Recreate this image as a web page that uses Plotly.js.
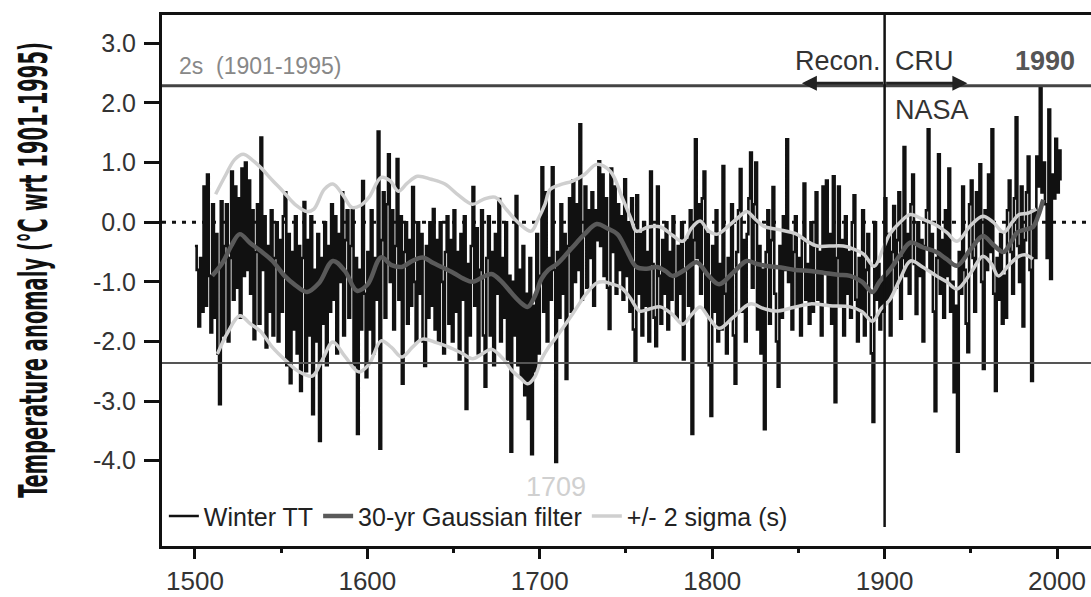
<!DOCTYPE html>
<html><head><meta charset="utf-8">
<script src="https://cdn.plot.ly/plotly-3.0.1.min.js"></script>
<style>html,body{margin:0;padding:0;background:#fff;} #chart{width:1091px;height:597px;}</style>
</head><body><div id="chart"></div>
<script>
// ---- DATA ----
const firstYear = 1500;
const winterTT = [
 -0.4,-0.8,-1.75,-0.6,-1.5,0.6,-1.4,0.8,-0.9,-1.85,
 0.3,-1.6,-0.2,-2.2,-3.05,0.35,-1.9,-0.4,0.3,-2.0,
 -0.6,0.85,-1.3,0.6,-1.1,0.4,-1.6,0.9,-0.9,1.0,
 -0.8,0.7,-1.2,0.2,-1.96,-0.5,0.3,-1.7,1.42,-0.8,
 0.1,-2.1,-0.4,-1.5,0.2,-1.9,-0.6,0.0,-2.0,-0.3,
 -1.5,0.1,0.5,-2.4,-0.2,-2.7,-0.5,-1.8,0.1,-2.2,
 -0.4,-2.83,-0.6,0.34,-2.5,-0.3,-1.9,0.1,-3.22,-0.8,
 -2.0,-0.2,-3.67,-0.6,-1.7,0.0,-2.4,-0.4,-1.5,0.3,
 -1.3,0.1,-2.2,-0.2,-1.0,0.5,-1.9,-0.3,0.2,-1.6,
 -0.4,0.2,-2.4,-0.6,-3.55,-0.8,-1.8,0.69,-1.2,-2.6,
 -0.5,-1.8,0.2,-2.2,-0.6,-1.3,1.52,-3.8,-0.3,0.5,
 -1.6,0.3,1.14,-1.0,0.2,-1.8,-0.4,1.06,-1.3,0.1,
 -2.71,-0.5,0.0,-1.7,-0.3,-1.4,0.59,-1.0,-2.0,0.0,
 -1.2,-0.2,-2.0,-2.41,-0.4,-1.6,0.0,-1.4,0.22,-1.8,
 -0.3,-2.0,0.0,-1.0,-2.2,-0.5,0.1,-1.7,-0.3,-2.0,
 0.2,-1.5,-0.5,-2.3,-0.2,-1.3,0.1,-3.13,-0.7,-1.9,
 -0.4,0.59,-1.4,-0.1,-2.2,-0.8,0.2,-1.9,-2.76,-0.6,
 0.1,-1.9,-0.5,-2.4,-0.2,-1.2,0.39,-2.0,-0.6,-1.6,
 0.0,-2.3,-0.9,-3.85,-1.0,-1.9,0.44,-2.4,-0.8,-2.6,
 -0.4,-2.9,-1.2,-3.3,-0.6,-3.89,-1.4,-2.5,-0.2,-2.2,
 -0.9,0.92,-1.5,0.5,-2.0,-0.6,-1.3,0.92,-0.8,-4.02,
 -0.5,-1.6,0.3,-1.2,-0.2,-2.63,-0.4,0.4,-1.5,0.7,
 -1.0,0.3,-0.8,1.64,-1.3,-0.2,0.6,-1.1,0.2,-0.6,
 0.5,-1.4,0.2,-0.3,1.02,-0.4,0.8,-0.9,0.4,-1.1,
 -1.79,0.9,-0.5,0.6,-1.2,0.3,-0.8,0.1,-1.3,0.72,
 -0.9,0.0,-1.5,0.4,-1.8,-2.33,0.45,-1.2,-0.2,-1.9,
 0.0,-1.4,-0.5,-2.0,0.85,-0.7,-1.6,-2.08,0.6,-0.9,
 -1.7,-0.3,-1.2,0.0,-1.8,-0.5,-1.3,0.1,-0.9,-1.6,
 -0.4,-1.2,0.0,-2.3,-0.8,-0.3,-1.4,0.2,-3.55,-0.3,
 1.39,-0.6,0.3,-1.2,0.4,0.85,-1.5,-0.2,-2.4,-3.25,
 -0.4,-1.5,0.2,-2.0,-0.7,-1.8,0.94,-1.2,-2.2,-0.6,
 -1.6,0.3,-1.9,-2.71,-0.5,0.2,0.89,-1.5,-0.3,-2.0,
 -0.2,0.4,1.17,-1.1,0.3,1.0,-1.8,-0.4,-2.2,-0.8,
 -3.47,-0.5,0.2,-1.7,-0.3,0.59,-1.2,-2.0,-2.76,-0.4,
 -1.6,0.1,-0.8,1.39,-1.0,-0.2,-1.8,-0.5,0.1,-1.4,
 -0.6,-1.9,-0.3,0.65,-1.3,-0.7,-1.7,0.0,-1.5,-0.4,
 0.5,-1.3,-0.5,-1.9,0.6,-0.8,0.7,-1.4,-0.2,-1.7,
 0.77,-3.02,-0.6,0.6,-1.4,-0.3,-1.9,0.1,-1.2,-0.5,
 -1.6,0.0,0.45,-1.3,-2.0,-0.6,-1.5,0.2,-1.9,-0.8,
 -0.2,-1.6,-2.2,-3.35,0.0,-1.3,-0.7,-1.8,-1.0,-1.5,
 0.4,-1.3,-0.2,-1.9,-0.5,0.27,-1.1,-0.3,0.5,-1.62,
 -0.6,1.26,-0.9,-0.2,-1.2,0.3,0.8,-0.7,-1.54,0.0,
 -0.9,-0.3,-2.0,-0.4,0.2,1.56,-0.8,-0.2,-1.5,-3.17,
 -0.6,1.14,-1.2,-0.3,-1.6,0.2,-0.9,0.9,-1.5,-1.0,
 -2.85,-1.4,-3.85,-0.5,-1.2,0.6,-0.8,-1.7,-2.18,0.3,
 0.7,-0.6,-1.5,0.5,-0.3,0.97,-1.0,-2.46,0.2,-0.8,
 0.8,-0.5,1.56,-1.2,-2.83,-0.6,-1.3,-0.2,-1.7,-0.9,
 -1.6,0.2,0.7,-0.5,-1.2,0.4,1.76,-0.4,-1.0,0.6,
 -1.75,-0.3,0.5,1.1,-0.8,-2.66,0.2,-0.6,1.1,0.6,
 2.28,0.5,1.0,0.3,-0.6,1.89,-0.95,0.8,0.4,1.4,
 0.5,1.2,0.7
];

const filterYears  = [1510,1516,1521,1526,1532,1538,1545,1552,1558,1565,1572,1580,1587,1594,1600,1608,1614,1620,1626,1632,1638,1643,1650,1656,1661,1667,1672,1678,1684,1689,1693,1697,1701,1705,1710,1715,1719,1726,1733,1739,1745,1750,1756,1762,1768,1773,1777,1784,1791,1798,1804,1812,1820,1826,1833,1840,1848,1857,1865,1873,1880,1887,1893,1897,1903,1909,1915,1922,1930,1936,1942,1950,1957,1963,1969,1973,1977,1982,1986,1989,1992];
const filterValues = [-0.90,-0.68,-0.40,-0.20,-0.35,-0.48,-0.65,-0.90,-1.05,-1.17,-1.02,-0.65,-0.82,-1.15,-1.05,-0.59,-0.72,-0.75,-0.65,-0.59,-0.68,-0.75,-0.85,-0.95,-1.00,-0.92,-0.87,-1.00,-1.20,-1.35,-1.42,-1.25,-0.95,-0.80,-0.70,-0.55,-0.42,-0.20,-0.03,-0.10,-0.20,-0.45,-0.75,-0.78,-0.75,-0.82,-0.90,-0.80,-0.67,-0.90,-1.04,-0.85,-0.65,-0.70,-0.74,-0.76,-0.80,-0.82,-0.85,-0.88,-0.90,-1.00,-1.17,-1.00,-0.80,-0.55,-0.34,-0.42,-0.50,-0.62,-0.73,-0.45,-0.23,-0.38,-0.50,-0.35,-0.17,-0.12,-0.08,0.10,0.38];

const sigmaUpYears  = [1512,1518,1523,1528,1533,1538,1545,1551,1558,1565,1569,1575,1580,1586,1591,1596,1601,1608,1613,1618,1623,1629,1637,1645,1653,1661,1667,1674,1681,1688,1695,1699,1703,1706,1712,1719,1726,1733,1741,1748,1753,1756,1763,1770,1777,1783,1788,1793,1798,1803,1810,1816,1820,1825,1830,1838,1849,1855,1861,1868,1876,1882,1888,1894,1899,1903,1909,1915,1922,1930,1936,1942,1950,1957,1963,1969,1974,1978,1983,1988];
const sigmaUpValues = [0.47,0.80,1.05,1.14,1.05,0.92,0.70,0.52,0.30,0.18,0.22,0.55,0.64,0.45,0.25,0.28,0.42,0.75,0.70,0.52,0.65,0.77,0.72,0.64,0.45,0.30,0.38,0.42,0.20,-0.02,-0.15,0.05,0.30,0.55,0.63,0.69,0.80,0.97,0.85,0.40,0.05,-0.15,-0.08,-0.08,-0.22,-0.32,-0.10,0.02,-0.15,-0.20,-0.05,0.10,0.18,0.05,-0.07,-0.12,-0.20,-0.32,-0.40,-0.40,-0.40,-0.45,-0.54,-0.74,-0.45,-0.20,0.00,0.13,0.05,-0.05,-0.17,-0.32,-0.05,0.10,0.00,-0.17,0.00,0.13,0.15,0.22];

const sigmaLowYears  = [1513,1519,1526,1532,1538,1545,1553,1560,1568,1574,1580,1587,1595,1601,1608,1614,1620,1626,1632,1640,1647,1655,1661,1667,1672,1679,1684,1689,1693,1697,1701,1705,1708,1714,1719,1727,1733,1737,1742,1747,1752,1758,1764,1770,1777,1783,1788,1793,1798,1804,1812,1822,1830,1837,1847,1857,1868,1880,1887,1893,1898,1903,1909,1915,1922,1930,1936,1942,1950,1957,1962,1966,1972,1978,1982,1986];
const sigmaLowValues = [-2.21,-1.85,-1.57,-1.70,-1.83,-2.10,-2.33,-2.50,-2.58,-2.30,-2.01,-2.25,-2.51,-2.38,-1.99,-2.10,-2.26,-2.10,-1.96,-2.02,-2.09,-2.20,-2.29,-2.20,-2.13,-2.30,-2.49,-2.62,-2.71,-2.60,-2.30,-2.10,-1.99,-1.75,-1.54,-1.20,-1.02,-1.00,-1.04,-1.09,-1.25,-1.49,-1.45,-1.42,-1.55,-1.71,-1.55,-1.42,-1.60,-1.78,-1.60,-1.37,-1.45,-1.49,-1.43,-1.37,-1.40,-1.42,-1.50,-1.66,-1.45,-1.30,-0.95,-0.65,-0.75,-0.90,-1.00,-1.12,-0.85,-0.57,-0.70,-0.90,-0.72,-0.57,-0.55,-0.62];

const xTickValues = [1500,1600,1700,1800,1900,2000];
const yTickValues = [3,2,1,0,-1,-2,-3,-4];
const yTickLabels = ['3.0','2.0','1.0','0.0','-1.0','-2.0','-3.0','-4.0'];
const twoSigmaLimits = [2.29,-2.36];
const splitYear = 1900;
const seriesNames = ['Winter TT','30-yr Gaussian filter','+/- 2 sigma (s)'];

// ---- BUILD ----
const years = winterTT.map((v,i)=>firstYear+i);
const FONT = 'Liberation Sans, Arial, sans-serif';

const traces = [
  {x:years, y:winterTT, type:'scatter', mode:'lines', name:seriesNames[0],
   line:{color:'#111', width:2.6, shape:'hv'}, legendrank:1},
  {x:sigmaUpYears, y:sigmaUpValues, type:'scatter', mode:'lines', name:seriesNames[2],
   line:{color:'#cfcfcf', width:3.5, shape:'spline'}, legendrank:3},
  {x:sigmaLowYears, y:sigmaLowValues, type:'scatter', mode:'lines', name:seriesNames[2],
   line:{color:'#cfcfcf', width:3.5, shape:'spline'}, showlegend:false},
  {x:filterYears, y:filterValues, type:'scatter', mode:'lines', name:seriesNames[1],
   line:{color:'#5a5a5a', width:4.5, shape:'spline'}, legendrank:2}
];

const layout = {
  width:1091, height:597,
  margin:{l:162, r:0, t:15, b:51},
  paper_bgcolor:'#fff', plot_bgcolor:'#fff',
  font:{family:FONT, color:'#222'},
  showlegend:true,
  legend:{orientation:'h', x:0.002, xanchor:'left', y:0.056, yanchor:'middle',
          font:{size:25, color:'#222', family:FONT}, bgcolor:'rgba(0,0,0,0)', traceorder:'normal',
          itemwidth:30},
  xaxis:{range:[1480.9,2019.7], showgrid:false, zeroline:false,
         showline:true, linecolor:'#111', linewidth:3, mirror:true,
         ticks:'outside', ticklen:10, tickwidth:3, tickcolor:'#111',
         tickvals:xTickValues, tickfont:{size:26, color:'#333', family:FONT},
         minor:{dtick:50, tick0:1500, ticks:'outside', ticklen:4, tickwidth:3, tickcolor:'#111', showgrid:false}},
  yaxis:{range:[-5.43,3.475], showgrid:false, zeroline:false,
         showline:true, linecolor:'#111', linewidth:3,
         ticks:'outside', ticklen:15, tickwidth:3, tickcolor:'#111',
         tickvals:yTickValues, ticktext:yTickLabels, tickfont:{size:25, color:'#333', family:FONT},
         ticklabelstandoff:3,
         title:{text:'Temperature anomaly (°C wrt 1901-1995)', standoff:18,
                font:{size:22, color:'#111', family:'Liberation Sans Narrow, DejaVu Sans Condensed, Arial Narrow, sans-serif', weight:'bold'}}},
  shapes:[
    {type:'line', xref:'paper', x0:0, x1:1, yref:'y', y0:0, y1:0, layer:'below',
     line:{color:'#111', width:3, dash:'4px,6px'}},
    {type:'line', xref:'paper', x0:0, x1:1, yref:'y', y0:twoSigmaLimits[0], y1:twoSigmaLimits[0],
     line:{color:'#444', width:3}},
    {type:'line', xref:'paper', x0:0, x1:1, yref:'y', y0:twoSigmaLimits[1], y1:twoSigmaLimits[1],
     line:{color:'#555', width:2}},
    {type:'line', xref:'x', x0:splitYear, x1:splitYear, yref:'y', y0:-5.11, y1:3.475,
     line:{color:'#111', width:2.5}}
  ],
  annotations:[
    {text:'2s  (1901-1995)', xref:'x', x:1489.5, xanchor:'left', yref:'y', y:2.62, yanchor:'middle',
     showarrow:false, font:{size:23, color:'#888', family:FONT}},
    {text:'Recon.', xref:'x', x:1899, xanchor:'right', yref:'y', y:2.70, yanchor:'middle',
     showarrow:false, font:{size:27, color:'#333', family:FONT}},
    {text:'CRU', xref:'x', x:1905, xanchor:'left', yref:'y', y:2.70, yanchor:'middle',
     showarrow:false, font:{size:27, color:'#333', family:FONT}},
    {text:'<b>1990</b>', xref:'x', x:1993, xanchor:'center', yref:'y', y:2.70, yanchor:'middle',
     showarrow:false, font:{size:27, color:'#555', family:FONT}},
    {text:'NASA', xref:'x', x:1905, xanchor:'left', yref:'y', y:1.88, yanchor:'middle',
     showarrow:false, font:{size:27, color:'#333', family:FONT}},
    {text:'1709', xref:'x', x:1709.5, xanchor:'center', yref:'y', y:-4.44, yanchor:'middle',
     showarrow:false, font:{size:27, color:'#d0d0d0', family:FONT}},
    {text:'', xref:'x', yref:'y', x:1852, y:2.33, axref:'x', ayref:'y', ax:1900, ay:2.33,
     showarrow:true, arrowhead:2, arrowsize:1, arrowwidth:3, arrowcolor:'#222'},
    {text:'', xref:'x', yref:'y', x:1948, y:2.33, axref:'x', ayref:'y', ax:1900, ay:2.33,
     showarrow:true, arrowhead:2, arrowsize:1, arrowwidth:3, arrowcolor:'#222'}
  ]
};

Plotly.newPlot('chart', traces, layout, {displayModeBar:false, staticPlot:true}).then(gd=>{
  // condensed, tall y-axis title as in the reference
  const t = gd.querySelector('.g-ytitle text');
  if(t){
    const orig = t.getAttribute('transform') || '';
    const r = t.getBoundingClientRect();
    const mx = r.left + r.width/2, my = r.top + r.height/2;
    const sx = 44 / r.width, sy = 456 / r.height;
    const targetX = 34, targetY = 270;
    t.setAttribute('transform', `translate(${targetX} ${targetY}) scale(${sx} ${sy}) translate(${-mx} ${-my}) ${orig}`);
  }
});
</script>
</body></html>
